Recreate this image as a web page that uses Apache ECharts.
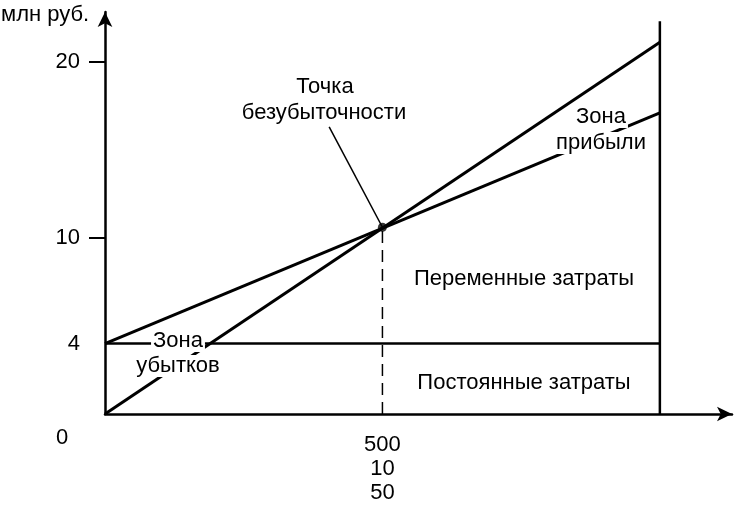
<!DOCTYPE html>
<html>
<head>
<meta charset="utf-8">
<script src="https://cdn.jsdelivr.net/npm/echarts@6/dist/echarts.min.js"></script>
<style>
  html, body { margin: 0; padding: 0; background: #fff; }
  #main { width: 740px; height: 505px; }
</style>
</head>
<body>
<div id="main"></div>
<script>
// объём выпуска (ось X) и значения в млн руб.
const volume = [0, 1000];
const revenue = [0, 21.1];
const totalCost = [4, 17.1];
const fixedCost = [4, 4];
const breakEven = [500, 10.6];
const borderTop = 22.3;
const yLabelValues = [4, 10, 20];
const yTickValues = [10, 20];
const xLabelValues = [500];
const xLabelLines = ['500', '10', '50'];

const chart = echarts.init(document.getElementById('main'));
const font = '"Liberation Sans", Arial, sans-serif';
const fs = 22;

function pairs(xs, ys) {
  return xs.map(function (x, i) { return [x, ys[i]]; });
}

function line(data, width, type) {
  return {
    type: 'line',
    data: data,
    symbol: 'none',
    silent: true,
    lineStyle: { color: '#000', width: width, type: type || 'solid' }
  };
}

function label(text, x, y, bg) {
  return {
    type: 'text',
    x: x,
    y: y,
    z: 100,
    style: {
      text: text,
      font: fs + 'px ' + font,
      fill: '#000',
      align: 'center',
      verticalAlign: 'middle',
      backgroundColor: bg ? '#fff' : 'transparent',
      padding: bg ? [0, 2] : 0
    }
  };
}

// leader line of the "break-even" caption, starts under the caption
const leaderFrom = [404, 16.3];

var option = {
  animation: false,
  backgroundColor: '#fff',
  grid: { left: 105, right: 8, top: 12, bottom: 89 },
  xAxis: {
    type: 'value',
    min: 0,
    max: 1130,
    splitLine: { show: false },
    axisTick: { show: false },
    axisLine: {
      lineStyle: { color: '#000', width: 2.5 },
      symbol: ['none', 'arrow'],
      symbolSize: [11, 15]
    },
    axisLabel: {
      customValues: xLabelValues,
      formatter: function () { return xLabelLines.join('\n'); },
      color: '#000',
      fontFamily: font,
      fontSize: fs,
      lineHeight: 24,
      margin: 19
    }
  },
  yAxis: {
    type: 'value',
    min: 0,
    max: 22.82,
    splitLine: { show: false },
    axisLine: {
      lineStyle: { color: '#000', width: 2.5 },
      symbol: ['none', 'arrow'],
      symbolSize: [11, 15]
    },
    axisTick: {
      show: true,
      customValues: yTickValues,
      length: 16,
      lineStyle: { color: '#000', width: 2 }
    },
    axisLabel: {
      customValues: yLabelValues,
      color: '#000',
      fontFamily: font,
      fontSize: fs,
      margin: 25
    }
  },
  series: [
    line(pairs(volume, revenue), 3),
    line(pairs(volume, totalCost), 3),
    line(pairs(volume, fixedCost), 2.5),
    line([[volume[1], 0], [volume[1], borderTop]], 2.5),
    line([[breakEven[0], 0], breakEven], 1.5, [12, 7]),
    line([leaderFrom, breakEven], 1.5),
    {
      type: 'scatter',
      data: [breakEven],
      symbolSize: 9,
      silent: true,
      itemStyle: { color: '#000' }
    }
  ],
  graphic: [
    {
      type: 'text', left: 1, top: 4, z: 100,
      style: { text: 'млн руб.', font: fs + 'px ' + font, fill: '#000' }
    },
    label('0', 62, 438, false),
    label('Точка', 325, 87, false),
    label('безубыточности', 324, 113, false),
    label('Зона', 178, 341, true),
    label('убытков', 178, 366, true),
    label('Зона', 601, 117, true),
    label('прибыли', 601, 143, true),
    label('Переменные затраты', 524, 279, false),
    label('Постоянные затраты', 524, 383, false)
  ]
};

chart.setOption(option);
</script>
</body>
</html>
